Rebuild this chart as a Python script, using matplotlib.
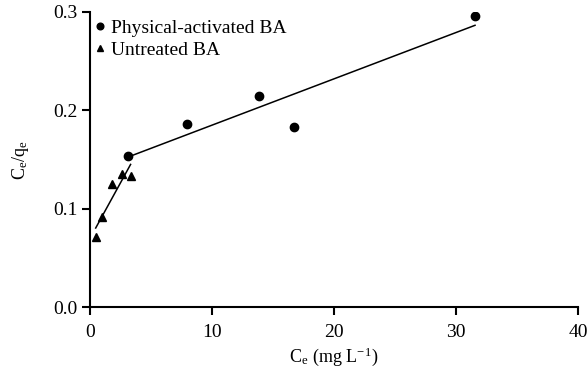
import numpy as np
import matplotlib
matplotlib.use("Agg")
import matplotlib.pyplot as plt

plt.rcParams['font.family'] = ['Liberation Serif', 'DejaVu Serif']
plt.rcParams['mathtext.fontset'] = 'stix'

phys_x = [3.11, 7.95, 13.85, 16.7, 31.56]
phys_y = [0.1536, 0.186, 0.2147, 0.183, 0.296]
untr_x = [0.47, 0.98, 1.83, 2.6, 3.33]
untr_y = [0.0715, 0.0919, 0.1248, 0.135, 0.1336]

fig = plt.figure(figsize=(5.88, 3.70), dpi=100)
ax = fig.add_axes([0.153, 0.170, 0.830, 0.798])

ax.plot(phys_x, phys_y, 'o', color='black', markersize=6, label='Physical-activated BA')
ax.plot(untr_x, untr_y, '^', color='black', markersize=6, label='Untreated BA')

for xs, ys in [(phys_x, phys_y), (untr_x, untr_y)]:
    k, b = np.polyfit(xs, ys, 1)
    xx = np.array([min(xs), max(xs)])
    ax.plot(xx, k * xx + b, '-', color='black', lw=1.1)

ax.set_xlim(0, 40)
ax.set_ylim(0, 0.3)
ax.set_xticks([0, 10, 20, 30, 40])
ax.set_yticks([0.0, 0.1, 0.2, 0.3])
ax.set_yticklabels(['0.0', '0.1', '0.2', '0.3'])
for s in ['top', 'right']:
    ax.spines[s].set_visible(False)
for s in ['left', 'bottom']:
    ax.spines[s].set_linewidth(1.5)
ax.tick_params(direction='out', length=6, width=1.5, labelsize=14)
ax.tick_params(axis='x', pad=6)
ax.tick_params(axis='y', pad=3)

ax.set_xlabel(r'C$_\mathregular{e}$ (mg L$^{\mathregular{-1}}$)', fontsize=13, labelpad=3)
ax.set_ylabel(r'C$_\mathregular{e}$/q$_\mathregular{e}$', fontsize=13, labelpad=16)

leg = ax.legend(loc='upper left', frameon=False, fontsize=14, handletextpad=0.1,
                handlelength=1.0, borderaxespad=0.0, borderpad=0.0, labelspacing=0.25,
                markerscale=0.8, bbox_to_anchor=(0.0, 0.975))

fig.savefig('out.png', dpi=100)
